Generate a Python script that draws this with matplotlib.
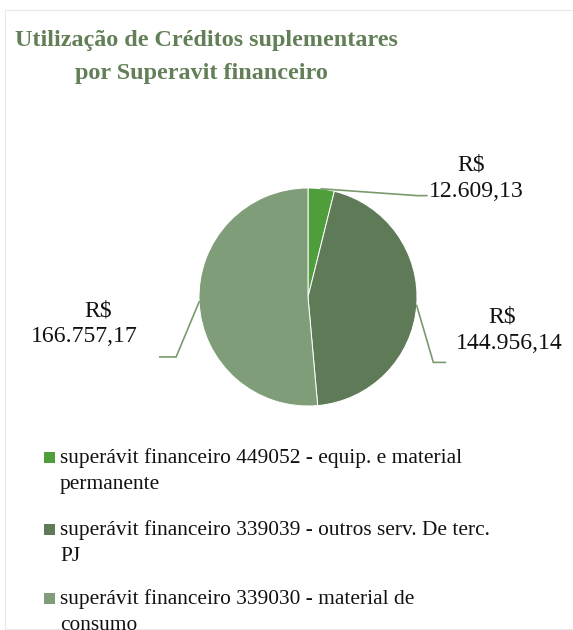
import matplotlib
matplotlib.use("Agg")
import matplotlib.pyplot as plt
from matplotlib.patches import Rectangle
import numpy as np

plt.rcParams['font.family'] = ['Liberation Serif', 'DejaVu Serif']

# Data
categories = [
    "superávit financeiro 449052 - equip. e material\npermanente",
    "superávit financeiro 339039 - outros serv. De terc.\nPJ",
    "superávit financeiro 339030 - material de\nconsumo",
]
values = [12609.13, 144956.14, 166757.17]
value_labels = ["R$\n12.609,13", "R$\n144.956,14", "R$\n166.757,17"]
colors = ["#4F9E3B", "#5E7A57", "#7F9D78"]
title = "Utilização de Créditos suplementares\npor Superavit financeiro"

W, H = 573, 630
fig = plt.figure(figsize=(W / 100, H / 100), dpi=100)
fig.patch.set_facecolor("white")


def fx(px):
    return px / W


def fy(py):
    return 1 - py / H


# light chart-area frame
fig.patches.append(Rectangle((fx(5), fy(629)), 1.0, (629 - 10) / H, transform=fig.transFigure,
                             fill=False, edgecolor="#E8E8E8", linewidth=0.8))

# title, one line at a time (x centre, baseline in pixels)
title_layout = [(206, 46), (201, 79)]
for line, (x, yb) in zip(title.split("\n"), title_layout):
    fig.text(fx(x), fy(yb), line, ha="center", va="baseline", fontsize=17.4,
             fontweight="bold", color="#637F57")

# pie axes
cx, cy, r = 308, 297, 109
ax = fig.add_axes([fx(cx - r), fy(cy + r), 2 * r / W, 2 * r / H])
wedges, _ = ax.pie(values, colors=colors, startangle=90, counterclock=False,
                   radius=1.0, wedgeprops=dict(edgecolor="white", linewidth=0.7))
ax.set_xlim(-1, 1)
ax.set_ylim(-1, 1)
ax.set_aspect("equal")
ax.axis("off")

# leader lines (elbow and end in pie units)
elbows = [(1.00, 0.93), (1.15, -0.60), (-1.21, -0.55)]
ends = [(1.09, 0.93), (1.26, -0.60), (-1.36, -0.55)]
line_color = "#7A9A6E"
for w, el, en in zip(wedges, elbows, ends):
    ang = np.deg2rad((w.theta1 + w.theta2) / 2)
    p0 = (np.cos(ang), np.sin(ang))
    ax.plot([p0[0], el[0], en[0]], [p0[1], el[1], en[1]], color=line_color,
            linewidth=1.2, clip_on=False, solid_joinstyle="miter")

# value labels: per line (x centre, baseline) in pixels
label_layout = [
    [(471, 171), (476, 197)],
    [(502, 323), (509, 349)],
    [(98, 317), (84, 342)],
]
for lab, pos in zip(value_labels, label_layout):
    for line, (x, yb) in zip(lab.split("\n"), pos):
        fig.text(fx(x), fy(yb), line, ha="center", va="baseline", fontsize=17.1,
                 color="#111111")

# legend
legend_base = [463, 535, 604]
line_gap = 26
for lab, col, yb in zip(categories, colors, legend_base):
    fig.patches.append(Rectangle((fx(44), fy(yb)), 11 / W, 11 / H,
                                 transform=fig.transFigure, facecolor=col,
                                 edgecolor="none"))
    for k, line in enumerate(lab.split("\n")):
        fig.text(fx(60), fy(yb + k * line_gap), line, ha="left", va="baseline",
                 fontsize=15.4, color="#111111")

fig.savefig("out.png", dpi=100, facecolor="white")
